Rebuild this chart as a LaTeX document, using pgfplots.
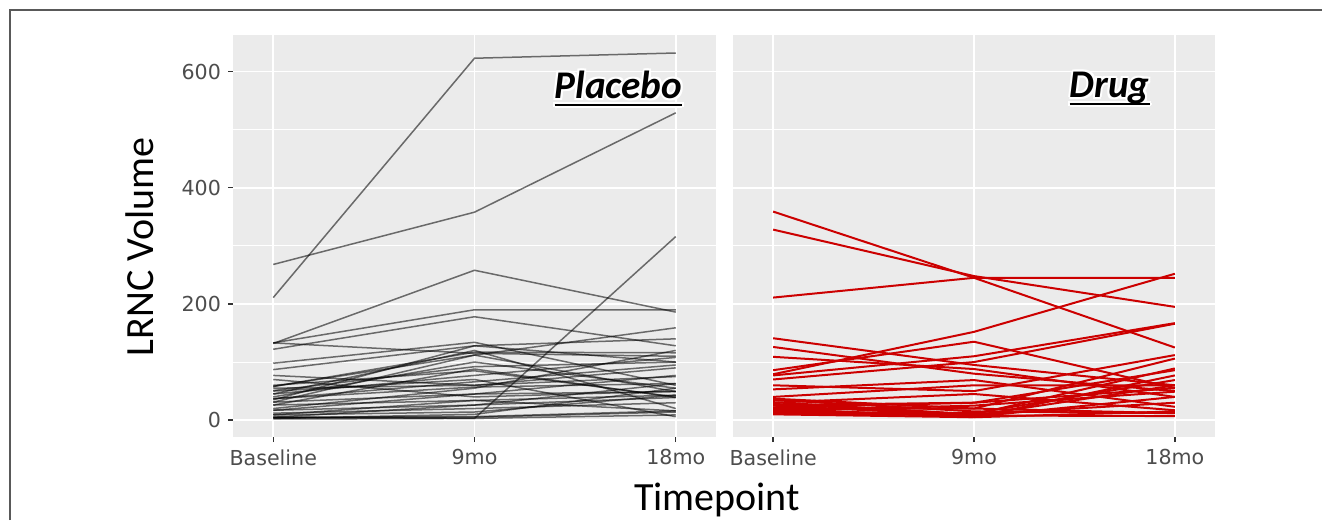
\documentclass[border=0pt]{standalone}
\usepackage{pgfplots}
\pgfplotsset{compat=1.18}
\usepackage{fontspec}
\setmainfont{Carlito}
\newfontfamily\dejavu{DejaVu Sans}
\definecolor{ggbg}{HTML}{EBEBEB}
\definecolor{ticklab}{HTML}{4D4D4D}
\definecolor{tickcol}{HTML}{333333}
\definecolor{drugred}{HTML}{CC0000}
\newcommand\ulbox[1]{\setbox0\hbox{#1}\rlap{\rule[-3.6pt]{\wd0}{1pt}}\box0}
\tikzset{ttl/.style={font=\fontsize{19.6}{21}\selectfont\bfseries\itshape}}
\newcommand\glowtitle[3]{%
  \node[ttl,text=white,xshift=-1pt] at (axis cs:#1,#2) {\ulbox{#3}};
  \node[ttl,text=white,xshift=1pt] at (axis cs:#1,#2) {\ulbox{#3}};
  \node[ttl,text=white,yshift=-1pt] at (axis cs:#1,#2) {\ulbox{#3}};
  \node[ttl,text=white,yshift=1pt] at (axis cs:#1,#2) {\ulbox{#3}};
  \node[ttl,text=white,xshift=0.8pt,yshift=0.8pt] at (axis cs:#1,#2) {\ulbox{#3}};
  \node[ttl,text=white,xshift=-0.8pt,yshift=0.8pt] at (axis cs:#1,#2) {\ulbox{#3}};
  \node[ttl,text=white,xshift=0.8pt,yshift=-0.8pt] at (axis cs:#1,#2) {\ulbox{#3}};
  \node[ttl,text=white,xshift=-0.8pt,yshift=-0.8pt] at (axis cs:#1,#2) {\ulbox{#3}};
  \node[ttl] at (axis cs:#1,#2) {\ulbox{#3}};
}
\pgfplotsset{
  ggpanel/.style={
    scale only axis, height=201pt,
    xmin=-0.2, xmax=2.2, ymin=-29, ymax=663,
    axis background/.style={fill=ggbg},
    axis line style={draw=none},
    grid=both,
    major grid style={white, line width=0.8pt},
    minor grid style={white, line width=0.4pt},
    xtick={0,1,2}, xticklabels={Baseline,9mo,18mo},
    ytick={0,200,400,600}, minor ytick={100,300,500},
    xtick pos=lower, ytick pos=left,
    tick align=outside,
    major tick length=2.5pt, minor tick length=0pt,
    tick style={color=tickcol, line width=0.7pt},
    tick label style={font=\dejavu\fontsize{10.3}{12}\selectfont, text=ticklab},
    xticklabel style={yshift=-0.3pt},
    /pgf/number format/assume math mode=true,
    clip=false,
  },
  plac/.style={black, opacity=0.55, line width=0.75pt},
  drug/.style={drugred, line width=1pt},
}
\begin{document}
\begin{tikzpicture}
\useasboundingbox (0,0) rectangle (661pt,260pt);
\draw[black!65, line width=0.75pt] (5pt,0) -- (5pt,255pt) -- (661pt,255pt);
\begin{axis}[ggpanel, at={(116.5pt,41.5pt)}, anchor=south west, width=241.5pt]
\addplot[plac] coordinates {(0,211)(1,623)(2,632)};
\addplot[plac] coordinates {(0,268)(1,358)(2,529)};
\addplot[plac] coordinates {(0,5)(1,3)(2,316)};
\addplot[plac] coordinates {(0,132)(1,258)(2,186)};
\addplot[plac] coordinates {(0,133)(1,190)(2,190)};
\addplot[plac] coordinates {(0,122)(1,178)(2,128)};
\addplot[plac] coordinates {(0,133)(1,115)(2,110)};
\addplot[plac] coordinates {(0,98)(1,134)(2,60)};
\addplot[plac] coordinates {(0,87)(1,128)(2,140)};
\addplot[plac] coordinates {(0,77)(1,60)(2,75)};
\addplot[plac] coordinates {(0,58)(1,117)(2,116)};
\addplot[plac] coordinates {(0,58)(1,112)(2,159)};
\addplot[plac] coordinates {(0,51)(1,92)(2,100)};
\addplot[plac] coordinates {(0,45)(1,77)(2,108)};
\addplot[plac] coordinates {(0,45)(1,120)(2,20)};
\addplot[plac] coordinates {(0,37)(1,66)(2,95)};
\addplot[plac] coordinates {(0,37)(1,57)(2,63)};
\addplot[plac] coordinates {(0,31)(1,45)(2,77)};
\addplot[plac] coordinates {(0,31)(1,112)(2,49)};
\addplot[plac] coordinates {(0,26)(1,34)(2,43)};
\addplot[plac] coordinates {(0,26)(1,88)(2,39)};
\addplot[plac] coordinates {(0,17)(1,26)(2,63)};
\addplot[plac] coordinates {(0,17)(1,45)(2,49)};
\addplot[plac] coordinates {(0,9)(1,14)(2,43)};
\addplot[plac] coordinates {(0,9)(1,34)(2,16)};
\addplot[plac] coordinates {(0,5)(1,6)(2,16)};
\addplot[plac] coordinates {(0,5)(1,26)(2,39)};
\addplot[plac] coordinates {(0,2)(1,3)(2,9)};
\addplot[plac] coordinates {(0,50)(1,70)(2,6)};
\addplot[plac] coordinates {(0,40)(1,100)(2,55)};
\addplot[plac] coordinates {(0,20)(1,55)(2,120)};
\addplot[plac] coordinates {(0,60)(1,85)(2,40)};
\addplot[plac] coordinates {(0,12)(1,20)(2,30)};
\addplot[plac] coordinates {(0,70)(1,40)(2,50)};
\addplot[plac] coordinates {(0,3)(1,10)(2,55)};
\addplot[plac] coordinates {(0,35)(1,128)(2,100)};
\addplot[plac] coordinates {(0,4)(1,5)(2,14)};
\addplot[plac] coordinates {(0,55)(1,60)(2,90)};
\glowtitle{1.715}{571}{Placebo}
\end{axis}
\begin{axis}[ggpanel, at={(366.5pt,41.5pt)}, anchor=south west, width=241pt,
  yticklabels={}, ytick style={draw=none}]
\addplot[drug] coordinates {(0,359)(1,245)(2,125)};
\addplot[drug] coordinates {(0,328)(1,248)(2,195)};
\addplot[drug] coordinates {(0,211)(1,245)(2,245)};
\addplot[drug] coordinates {(0,79)(1,152)(2,252)};
\addplot[drug] coordinates {(0,141)(1,95)(2,60)};
\addplot[drug] coordinates {(0,126)(1,80)(2,50)};
\addplot[drug] coordinates {(0,109)(1,88)(2,40)};
\addplot[drug] coordinates {(0,86)(1,135)(2,55)};
\addplot[drug] coordinates {(0,77)(1,110)(2,167)};
\addplot[drug] coordinates {(0,70)(1,100)(2,166)};
\addplot[drug] coordinates {(0,60)(1,50)(2,112)};
\addplot[drug] coordinates {(0,53)(1,69)(2,23)};
\addplot[drug] coordinates {(0,37)(1,20)(2,106)};
\addplot[drug] coordinates {(0,31)(1,10)(2,89)};
\addplot[drug] coordinates {(0,26)(1,30)(2,86)};
\addplot[drug] coordinates {(0,20)(1,5)(2,77)};
\addplot[drug] coordinates {(0,14)(1,12)(2,69)};
\addplot[drug] coordinates {(0,12)(1,8)(2,60)};
\addplot[drug] coordinates {(0,30)(1,45)(2,17)};
\addplot[drug] coordinates {(0,20)(1,20)(2,12)};
\addplot[drug] coordinates {(0,25)(1,8)(2,7)};
\addplot[drug] coordinates {(0,16)(1,25)(2,49)};
\addplot[drug] coordinates {(0,35)(1,15)(2,12)};
\addplot[drug] coordinates {(0,18)(1,6)(2,40)};
\addplot[drug] coordinates {(0,22)(1,30)(2,55)};
\addplot[drug] coordinates {(0,10)(1,5)(2,15)};
\addplot[drug] coordinates {(0,40)(1,60)(2,60)};
\addplot[drug] coordinates {(0,28)(1,10)(2,30)};
\glowtitle{1.675}{571}{Drug}
\end{axis}
\node[font=\fontsize{20}{22}\selectfont, anchor=base, rotate=90] at (76.5pt,136.6pt) {LRNC Volume};
\node[font=\fontsize{20}{22}\selectfont, anchor=base] at (358.5pt,5pt) {Timepoint};
\end{tikzpicture}
\end{document}
